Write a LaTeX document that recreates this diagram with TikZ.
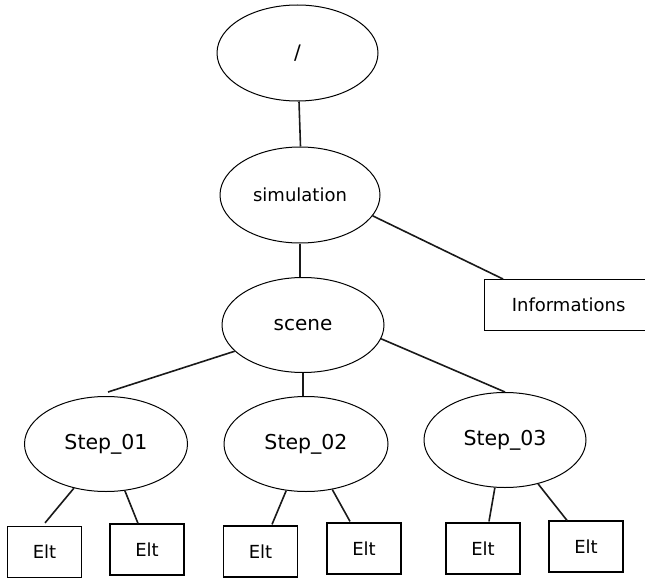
\documentclass[tikz,border=0pt]{standalone}
\usepackage{fontspec}
\setmainfont{DejaVu Sans}
\usetikzlibrary{shapes.geometric,calc}
\tikzset{
  oval/.style={ellipse, draw, line width=1pt, inner sep=0pt},
  eltbox/.style={rectangle, draw, line width=1.2pt, minimum width=74pt, minimum height=51pt, inner sep=0pt, font=\fontsize{18}{21}\selectfont},
  link/.style={line width=1.6pt, draw=black!90},
}
\begin{document}
\begin{tikzpicture}[x=1pt,y=-1pt]
\useasboundingbox (0,0) rectangle (645,578);
\node[oval, minimum width=161pt, minimum height=96pt, font=\fontsize{20}{24}\selectfont] (root) at (297.5,53) {/};
\node[oval, minimum width=160pt, minimum height=96pt, font=\fontsize{18}{22}\selectfont] (sim) at (300,195) {simulation};
\node[oval, minimum width=162pt, minimum height=95pt, font=\fontsize{20}{24}\selectfont] (scene) at (303,325) {scene};
\node[rectangle, draw, line width=1.2pt, minimum width=168pt, minimum height=51pt, anchor=north west, font=\fontsize{18}{22}\selectfont] (info) at (484,279) {Informations};
\node[oval, minimum width=163pt, minimum height=95pt, font=\fontsize{20.5}{24}\selectfont] (s1) at (106,444) {Step\_01};
\node[oval, minimum width=164pt, minimum height=95pt, font=\fontsize{20.5}{24}\selectfont] (s2) at (306,444) {Step\_02};
\node[oval, minimum width=162pt, minimum height=95pt, font=\fontsize{20.5}{24}\selectfont] (s3) at (505,440) {Step\_03};
\node[eltbox] (e1) at (44.5,552) {Elt};
\node[eltbox] (e2) at (147,549.5) {Elt};
\node[eltbox] (e3) at (260.5,551.5) {Elt};
\node[eltbox] (e4) at (364,548.5) {Elt};
\node[eltbox] (e5) at (483,548.5) {Elt};
\node[eltbox] (e6) at (586,546.5) {Elt};
\coordinate (s1top) at (108,392);
\draw[link] ($(root.south)+(1.5,0)$) -- ($(sim.north)+(0.5,0)$);
\draw[link] (sim.south) -- (sim.south |- scene.north);
\draw[link] (sim.-16.4) -- ($(info.north west)+(19,0)$);
\draw[link] (scene.201.8) -- (s1top);
\draw[link] (scene.south) -- (scene.south |- s2.north);
\draw[link] (scene.-10.6) -- (s3.north);
\draw[link] (s1.234.8) -- ($(e1.north)+(0.5,-3)$);
\draw[link] (s1.-68) -- ($(e2.north)+(-9,0)$);
\draw[link] (s2.-113) -- ($(e3.north)+(11.5,-1)$);
\draw[link] (s2.-60) -- ($(e4.north)+(-14,-1)$);
\draw[link] (s3.-102) -- ($(e5.north)+(6,-1)$);
\draw[link] (s3.-53) -- ($(e6.north)+(-19,0)$);
\end{tikzpicture}
\end{document}
